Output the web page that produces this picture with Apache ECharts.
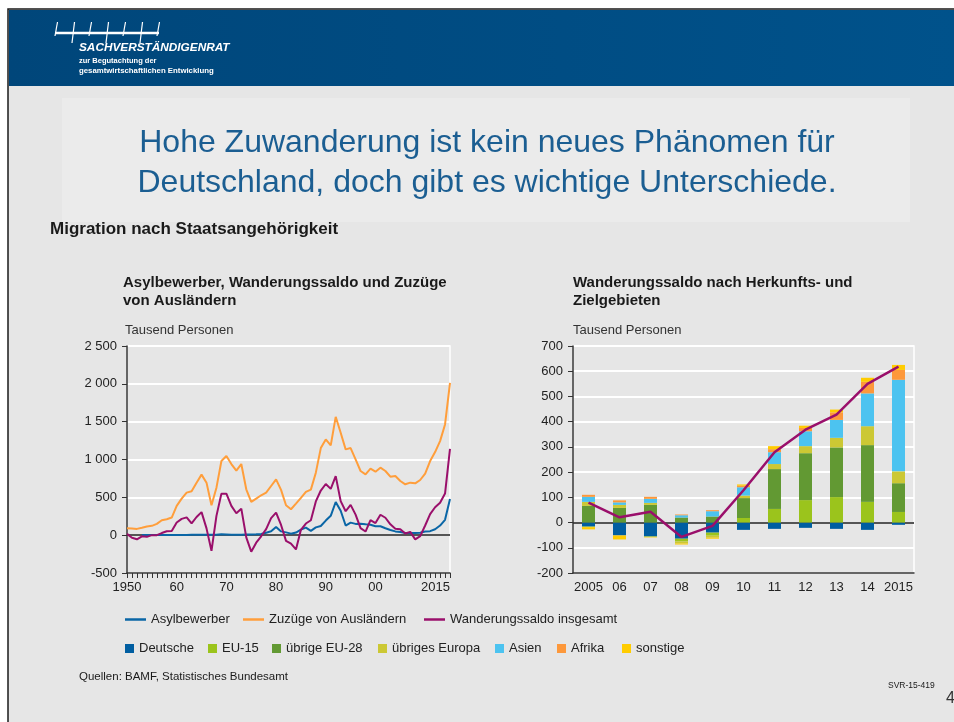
<!DOCTYPE html>
<html>
<head>
<meta charset="utf-8">
<title>Migration nach Staatsangehörigkeit</title>
<script src="https://cdn.jsdelivr.net/npm/echarts@6.0.0/dist/echarts.min.js"></script>
<style>
  html, body { margin: 0; padding: 0; background: #fff; }
  #main { width: 954px; height: 722px; }
</style>
</head>
<body>
<div id="main"></div>
<script>
const FONT = '"Liberation Sans", Arial, sans-serif'

// left chart: 1950 .. 2015, Tausend Personen
const YEARS = Array.from({ length: 66 }, (_, i) => String(1950 + i))
const YEAR_LABELS = { 1950: '1950', 1960: '60', 1970: '70', 1980: '80', 1990: '90', 2000: '00', 2015: '2015' }

const ASYLBEWERBER = [
  null, null, null, 2, 2, 2, 3, 3, 3, 3, // 1950-59
  3, 3, 3, 4, 4, 4, 4, 5, 6, 12, // 1960-69
  9, 5, 5, 5, 9, 10, 11, 16, 33, 51, // 1970-79
  108, 50, 37, 20, 35, 74, 100, 57, 103, 121, // 1980-89
  193, 256, 438, 323, 127, 166, 149, 151, 143, 138, // 1990-99
  118, 118, 91, 68, 50, 42, 30, 30, 28, 33, // 2000-09
  48, 53, 78, 127, 203, 477, // 2010-15
]
const ZUZUEGE = [
  92, 88, 83, 97, 114, 123, 149, 198, 211, 233,
  387, 483, 562, 580, 694, 800, 694, 395, 628, 980,
  1046, 940, 852, 940, 606, 439, 483, 527, 562, 650,
  738, 598, 395, 343, 417, 492, 571, 602, 826, 1151,
  1265, 1186, 1564, 1353, 1134, 1151, 1002, 848, 804, 879,
  839, 892, 848, 773, 782, 716, 672, 694, 685, 729,
  813, 980, 1098, 1243, 1463, 2012,
]
const SALDO = [
  17, -35, -55, -15, -22, 0, 0, 28, 52, 55,
  167, 215, 235, 155, 240, 305, 90, -208, 255, 549,
  549, 387, 290, 350, -30, -218, -100, -15, 80, 225,
  297, 135, -75, -112, -188, 70, 154, 197, 446, 590,
  676, 612, 780, 450, 316, 400, 272, 92, 48, 198,
  160, 270, 230, 143, 85, 79, 23, 44, -56, -13,
  128, 279, 369, 429, 550, 1140,
]

// right chart: 2005 .. 2015, Tausend Personen
const REGION_YEARS = ['2005', '06', '07', '08', '09', '10', '11', '12', '13', '14', '2015']
const DEUTSCHE = [-16, -51, -55, -64, -40, -29, -25, -21, -25, -29, -9]
const EU15 = [-2, 0, -2, -11, -12, 18, 54, 89, 101, 82, 42]
const UEBRIGE_EU28 = [66, 58, 70, 20, 24, 79, 158, 186, 197, 225, 114]
const UEBRIGES_EUROPA = [16, 12, 8, -8, -8, 10, 20, 28, 38, 75, 47]
const ASIEN = [20, 10, 16, 9, 21, 33, 47, 59, 71, 130, 363]
const AFRIKA = [8, 8, 8, 3, 4, 6, 12, 13, 30, 46, 39]
const SONSTIGE = [-9, -16, -2, -4, -4, 5, 12, 9, 11, 16, 20]
const SALDO_REGION = [79, 21, 43, -57, -13, 128, 279, 368, 428, 550, 618]

const COLORS = {
  asyl: '#0a66a6',
  zuzuege: '#ff9e3b',
  saldo: '#9a0f6b',
  deutsche: '#005ea1',
  eu15: '#9bc41c',
  eu28: '#629933',
  europa: '#ccc834',
  asien: '#4cc3f0',
  afrika: '#fd983b',
  sonstige: '#ffcc00',
}

const thousands = (v) => String(v).replace(/\B(?=(\d{3})+(?!\d))/g, ' ')

function text(x, y, str, style) {
  return {
    type: 'text',
    x,
    y,
    silent: true,
    style: Object.assign({ text: str, fontFamily: FONT, fill: '#1a1a1a', textVerticalAlign: 'middle' }, style),
  }
}

function logo() {
  const els = [{
    type: 'line',
    shape: { x1: 55, y1: 33, x2: 159, y2: 33 },
    style: { stroke: '#fff', lineWidth: 2.5 },
  }]
  const marks = [56, 73, 90, 107, 124, 141, 158]
  marks.forEach((x, i) => {
    els.push({
      type: 'line',
      shape: { x1: x + 1.5, y1: 22, x2: x - 1, y2: i % 2 ? 43 : 36 },
      style: { stroke: '#fff', lineWidth: 1.2 },
    })
  })
  els.push(text(79, 48, 'SACHVERSTÄNDIGENRAT', { fill: '#fff', fontSize: 11.8, fontWeight: 'bold', fontStyle: 'italic' }))
  els.push(text(79, 61, 'zur Begutachtung der', { fill: '#fff', fontSize: 7.5, fontWeight: 'bold' }))
  els.push(text(79, 71, 'gesamtwirtschaftlichen Entwicklung', { fill: '#fff', fontSize: 7.8, fontWeight: 'bold' }))
  return els
}

function graphics() {
  return [
    { type: 'rect', silent: true, z: -10, shape: { x: 0, y: 0, width: 954, height: 722 }, style: { fill: '#fff' } },
    { type: 'rect', silent: true, z: -10, shape: { x: 8, y: 9, width: 950, height: 720 }, style: { fill: '#e6e6e6', stroke: '#1a1a1a', lineWidth: 1.5 } },
    {
      type: 'rect', silent: true, z: -9,
      shape: { x: 9, y: 10, width: 945, height: 76 },
      style: { fill: new echarts.graphic.LinearGradient(0, 0, 1, 0, [{ offset: 0, color: '#00467a' }, { offset: 1, color: '#00528b' }]) },
    },
    { type: 'rect', silent: true, z: -9, shape: { x: 62, y: 98, width: 848, height: 124 }, style: { fill: '#ebebeb' } },
    ...logo(),
    text(487, 143, 'Hohe Zuwanderung ist kein neues Phänomen für', { fill: '#1b5e92', fontSize: 32, textAlign: 'center' }),
    text(487, 183, 'Deutschland, doch gibt es wichtige Unterschiede.', { fill: '#1b5e92', fontSize: 32, textAlign: 'center' }),
    text(50, 229, 'Migration nach Staatsangehörigkeit', { fontSize: 17, fontWeight: 'bold' }),
    text(123, 283, 'Asylbewerber, Wanderungssaldo und Zuzüge', { fontSize: 15, fontWeight: 'bold' }),
    text(123, 301, 'von Ausländern', { fontSize: 15, fontWeight: 'bold' }),
    text(125, 330, 'Tausend Personen', { fontSize: 13, fill: '#333' }),
    text(573, 283, 'Wanderungssaldo nach Herkunfts- und', { fontSize: 15, fontWeight: 'bold' }),
    text(573, 301, 'Zielgebieten', { fontSize: 15, fontWeight: 'bold' }),
    text(573, 330, 'Tausend Personen', { fontSize: 13, fill: '#333' }),
    text(79, 677, 'Quellen: BAMF, Statistisches Bundesamt', { fontSize: 11.5 }),
    text(888, 686, 'SVR-15-419', { fontSize: 8.5 }),
    text(946, 699, '4', { fontSize: 16, fill: '#333' }),
  ]
}

function legends() {
  const lineItems = [
    ['Asylbewerber', 125],
    ['Zuzüge von Ausländern', 243],
    ['Wanderungssaldo insgesamt', 424],
  ]
  const barItems = [
    ['Deutsche', 125],
    ['EU-15', 208],
    ['übrige EU-28', 272],
    ['übriges Europa', 378],
    ['Asien', 495],
    ['Afrika', 557],
    ['sonstige', 622],
  ]
  const base = {
    padding: 0,
    selectedMode: false,
    textStyle: { fontFamily: FONT, fontSize: 13, color: '#222' },
  }
  return [
    ...lineItems.map(([name, left]) => Object.assign({ data: [name], left, top: 613, icon: 'rect', itemWidth: 21, itemHeight: 2.5 }, base)),
    ...barItems.map(([name, left]) => Object.assign({ data: [name], left, top: 642, icon: 'rect', itemWidth: 9, itemHeight: 9 }, base)),
  ]
}

function splitColors(min, max, step) {
  const colors = []
  for (let v = min; v <= max; v += step) colors.push(v === 0 ? '#555' : '#fff')
  return colors
}

function render(chart) {
  const axisLine = { onZero: false, lineStyle: { color: '#333', width: 1.5 } }
  const axisLabel = { fontFamily: FONT, fontSize: 13, color: '#222' }

  const bar = (name, data, color) => ({
    name,
    type: 'bar',
    xAxisIndex: 1,
    yAxisIndex: 1,
    stack: 'region',
    barWidth: 13,
    itemStyle: { color },
    data,
  })
  const line = (name, data, color, idx, width) => ({
    name,
    type: 'line',
    xAxisIndex: idx,
    yAxisIndex: idx,
    showSymbol: false,
    symbol: 'none',
    z: 5,
    lineStyle: { color, width },
    itemStyle: { color },
    data,
  })

  chart.setOption({
    animation: false,
    graphic: graphics(),
    legend: legends(),
    grid: [
      { left: 127, top: 346, width: 323, height: 227, show: true, borderColor: '#fff', borderWidth: 1.5, backgroundColor: 'transparent' },
      { left: 573, top: 346, width: 341, height: 227, show: true, borderColor: '#fff', borderWidth: 1.5, backgroundColor: 'transparent' },
    ],
    xAxis: [
      {
        type: 'category',
        gridIndex: 0,
        data: YEARS,
        boundaryGap: false,
        axisLine,
        axisTick: { interval: 0, length: 5, lineStyle: { color: '#333' } },
        axisLabel: Object.assign({
          interval: (i, v) => YEAR_LABELS[v] !== undefined,
          formatter: (v) => YEAR_LABELS[v] || '',
          margin: 8,
          alignMaxLabel: 'right',
        }, axisLabel),
        splitLine: { show: false },
      },
      {
        type: 'category',
        gridIndex: 1,
        data: REGION_YEARS,
        axisLine,
        axisTick: { interval: 0, length: 5, lineStyle: { color: '#333' } },
        axisLabel: Object.assign({ interval: 0, margin: 8 }, axisLabel),
      },
    ],
    yAxis: [
      {
        type: 'value',
        gridIndex: 0,
        min: -500,
        max: 2500,
        interval: 500,
        axisLine: Object.assign({ show: true }, axisLine),
        axisTick: { show: true, length: 5, lineStyle: { color: '#333' } },
        axisLabel: Object.assign({ formatter: thousands, margin: 10 }, axisLabel),
        splitLine: { lineStyle: { color: splitColors(-500, 2500, 500), width: 2 } },
      },
      {
        type: 'value',
        gridIndex: 1,
        min: -200,
        max: 700,
        interval: 100,
        axisLine: Object.assign({ show: true }, axisLine),
        axisTick: { show: true, length: 5, lineStyle: { color: '#333' } },
        axisLabel: Object.assign({ margin: 10 }, axisLabel),
        splitLine: { lineStyle: { color: splitColors(-200, 700, 100), width: 2 } },
      },
    ],
    series: [
      line('Asylbewerber', ASYLBEWERBER, COLORS.asyl, 0, 2),
      line('Zuzüge von Ausländern', ZUZUEGE, COLORS.zuzuege, 0, 2),
      line('Wanderungssaldo insgesamt', SALDO, COLORS.saldo, 0, 2),
      bar('Deutsche', DEUTSCHE, COLORS.deutsche),
      bar('EU-15', EU15, COLORS.eu15),
      bar('übrige EU-28', UEBRIGE_EU28, COLORS.eu28),
      bar('übriges Europa', UEBRIGES_EUROPA, COLORS.europa),
      bar('Asien', ASIEN, COLORS.asien),
      bar('Afrika', AFRIKA, COLORS.afrika),
      bar('sonstige', SONSTIGE, COLORS.sonstige),
      line('Wanderungssaldo insgesamt', SALDO_REGION, COLORS.saldo, 1, 2.5),
    ],
  })
}

function main() {
  const chart = echarts.init(document.getElementById('main'), null, { renderer: 'canvas' })
  render(chart)
}

window.onload = main
</script>
</body>
</html>
